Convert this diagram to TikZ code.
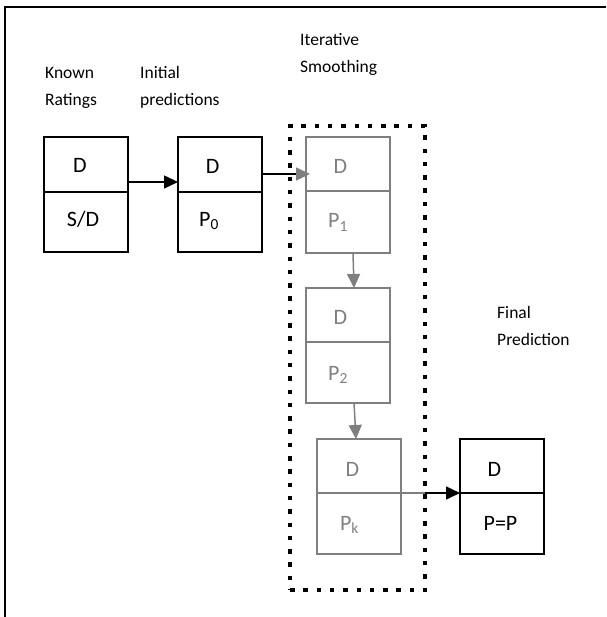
\documentclass[tikz,border=0pt]{standalone}
\usepackage{fontspec}
\setmainfont{Carlito}
\usetikzlibrary{arrows.meta}
\definecolor{gr}{HTML}{7F7F7F}
\begin{document}
\begin{tikzpicture}[x=1pt,y=-1pt,
  half/.style={draw, line width=1.3pt, minimum width=84pt, inner sep=0pt, outer sep=0pt},
  ghalf/.style={half, draw=gr},
  lbl/.style={font=\fontsize{17.5}{20}\selectfont, anchor=base west, inner sep=0pt},
  btxt/.style={font=\fontsize{22}{24}\selectfont, anchor=base, inner sep=0pt},
  gtxt/.style={btxt, text=gr},
  arr/.style={line width=1.5pt, -{Triangle[length=14pt,width=13pt]}},
  garr/.style={line width=1.5pt, draw=gr, -{Triangle[length=14pt,width=13pt,color=gr]}},
  dotbox/.style={draw, line width=4.5pt, dash pattern=on 4.5pt off 8.8pt, inner sep=0pt, outer sep=0pt},
]
\useasboundingbox (0,0) rectangle (606,617);
% frame
\draw[line width=2pt] (606,7) -- (5,7) -- (5,617);

% dotted group
\node[dotbox, minimum width=135pt, minimum height=464pt] (grp) at (357.5,358) {};

% boxes
\node[half, minimum height=55pt] (k1) at (86,164.5) {};
\node[half, minimum height=60pt] (k2) at (86,222) {};
\node[half, minimum height=55pt] (i1) at (220,164.5) {};
\node[half, minimum height=60pt] (i2) at (220,222) {};
\node[ghalf, minimum height=54pt] (p1t) at (348,164) {};
\node[ghalf, minimum height=62pt] (p1b) at (348,222) {};
\node[ghalf, minimum height=54pt] (p2t) at (348,315) {};
\node[ghalf, minimum height=61pt] (p2b) at (348,372.5) {};
\node[ghalf, minimum height=54pt] (pkt) at (359,466) {};
\node[ghalf, minimum height=61pt] (pkb) at (359,523.5) {};
\node[half, minimum height=54pt] (ft) at (502,466) {};
\node[half, minimum height=61pt] (fb) at (502,523.5) {};

% box texts
\node[btxt] (k1x) at (80,173) {D};
\node[btxt] (k2x) at (83,227) {S/D};
\node[btxt] (i1x) at (212.7,174) {D};
\node[btxt] (i2x) at (209,226) {P\textsubscript{0}};
\node[gtxt] (p1tx) at (340.5,174) {D};
\node[gtxt] (p1bx) at (338,228) {P\textsubscript{1}};
\node[gtxt] (p2tx) at (340.5,324) {D};
\node[gtxt] (p2bx) at (338,380) {P\textsubscript{2}};
\node[gtxt] (pktx) at (352.5,476) {D};
\node[gtxt] (pkbx) at (349.5,530) {P\textsubscript{k}};
\node[btxt] (ftx) at (494.5,476) {D};
\node[btxt] (fbx) at (500.5,530) {P=P};

% labels
\node[lbl] (l1a) at (45,79) {Known};
\node[lbl] (l1b) at (45,106) {Ratings};
\node[lbl] (l2a) at (140,79) {Initial};
\node[lbl] (l2b) at (140,106) {predictions};
\node[lbl] (l3a) at (300,46) {Iterative};
\node[lbl] (l3b) at (300,73) {Smoothing};
\node[lbl] (l4a) at (497,318) {Final};
\node[lbl] (l4b) at (497,345) {Prediction};

% arrows
\draw[arr] ([yshift=10pt]k1.south east) -- ([yshift=10pt]i1.south west);
\draw[line width=1.5pt, -{Triangle[length=14pt,width=13pt,color=gr]}] ([yshift=-9.5pt]i1.east) -- ([yshift=-10pt,xshift=4pt]p1t.west);
\draw[garr] ([xshift=5pt]p1b.south) -- ([xshift=6pt]p2t.north);
\draw[garr] ([xshift=6pt]p2b.south) -- ([xshift=-3pt]pkt.north);
\coordinate (mid) at (pkt.south east -| grp.east);
\draw[line width=1.5pt, gr] (pkt.south east) -- (mid);
\draw[arr] (mid) -- (ft.south west);
\end{tikzpicture}
\end{document}
